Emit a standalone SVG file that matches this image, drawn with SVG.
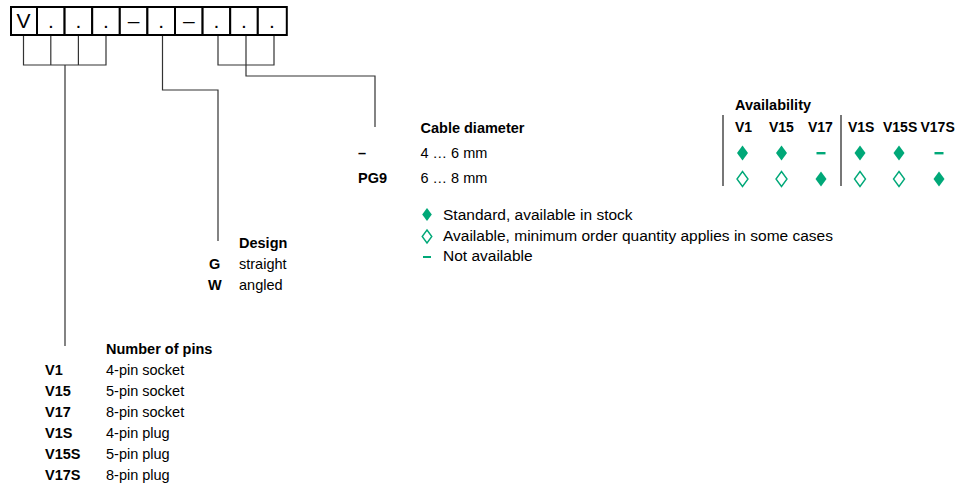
<svg xmlns="http://www.w3.org/2000/svg" width="960" height="491" viewBox="0 0 960 491">
<style>
text{font-family:"Liberation Sans",Arial,sans-serif;fill:#000}
.t{font-size:14.5px}
.h{font-size:14px}
.b{font-weight:bold}
.lg{font-size:15.5px}
.cell{fill:#fff;stroke:#000;stroke-width:2}
.ct{font-size:21px;text-anchor:middle}
.ln{fill:none;stroke:#333;stroke-width:1.2}
.sep{stroke:#777;stroke-width:2}
.fd{fill:#00a878}
.od{fill:none;stroke:#00a878;stroke-width:1.4}
.ds{fill:#00a878}
</style>
<defs>
<path id="fdi" d="M0,-7.5 L5.5,0 L0,7.5 L-5.5,0 Z"/>
<path id="sdi" d="M0,-6.5 L4.8,0 L0,6.5 L-4.8,0 Z"/>
</defs>
<g id="code">
<rect class="cell" x="11" y="7" width="26" height="28"/>
<rect class="cell" x="37" y="7" width="27.6" height="28"/>
<rect class="cell" x="64.6" y="7" width="27.6" height="28"/>
<rect class="cell" x="92.2" y="7" width="27.6" height="28"/>
<rect class="cell" x="119.8" y="7" width="27.6" height="28"/>
<rect class="cell" x="147.4" y="7" width="27.6" height="28"/>
<rect class="cell" x="175" y="7" width="27.6" height="28"/>
<rect class="cell" x="202.6" y="7" width="27.6" height="28"/>
<rect class="cell" x="230.2" y="7" width="27.6" height="28"/>
<rect class="cell" x="257.8" y="7" width="29" height="28"/>
<text class="ct" x="23.5" y="28">V</text>
<text class="ct" x="50.8" y="28">.</text>
<text class="ct" x="78.4" y="28">.</text>
<text class="ct" x="106" y="28">.</text>
<text class="ct" x="133.6" y="28">–</text>
<text class="ct" x="161.2" y="28">.</text>
<text class="ct" x="188.8" y="28">–</text>
<text class="ct" x="216.4" y="28">.</text>
<text class="ct" x="244" y="28">.</text>
<text class="ct" x="272" y="28">.</text>
</g>
<g id="connectors">
<path class="ln" d="M23.5,36 V65 H106 V36 M50.8,36 V65 M78.4,36 V65 M65,65 V346"/>
<path class="ln" d="M162.5,36 V90 H218 V241"/>
<path class="ln" d="M218,36 V65 H274 V36 M246,36 V76 H375 V127"/>
</g>
<g id="pins">
<text class="t b" x="106" y="354">Number of pins</text>
<text class="t b" x="45" y="375">V1</text><text class="t" x="106" y="375">4-pin socket</text>
<text class="t b" x="45" y="396">V15</text><text class="t" x="106" y="396">5-pin socket</text>
<text class="t b" x="45" y="417">V17</text><text class="t" x="106" y="417">8-pin socket</text>
<text class="t b" x="45" y="437.5">V1S</text><text class="t" x="106" y="437.5">4-pin plug</text>
<text class="t b" x="45" y="458.5">V15S</text><text class="t" x="106" y="458.5">5-pin plug</text>
<text class="t b" x="45" y="479.5">V17S</text><text class="t" x="106" y="479.5">8-pin plug</text>
</g>
<g id="design">
<text class="t b" x="239" y="247.5">Design</text>
<text class="t b" x="209" y="268.5">G</text><text class="t" x="239" y="268.5">straight</text>
<text class="t b" x="208" y="289.5">W</text><text class="t" x="239" y="289.5">angled</text>
</g>
<g id="cable">
<text class="t b" x="420.5" y="132.5">Cable diameter</text>
<text class="t b" x="358" y="158">–</text><text class="t" x="420.5" y="158">4 … 6 mm</text>
<text class="t b" x="358" y="183">PG9</text><text class="t" x="420.5" y="183">6 … 8 mm</text>
</g>
<g id="availability">
<text class="t b" x="735" y="110">Availability</text>
<line class="sep" x1="723" y1="115" x2="723" y2="186"/>
<line class="sep" x1="841" y1="115" x2="841" y2="186"/>
<text class="h b" x="735" y="132">V1</text>
<text class="h b" x="769" y="132">V15</text>
<text class="h b" x="808" y="132">V17</text>
<text class="h b" x="848" y="132">V1S</text>
<text class="h b" x="883" y="132">V15S</text>
<text class="h b" x="920.5" y="132">V17S</text>
<use href="#fdi" class="fd" x="742.5" y="153"/>
<use href="#fdi" class="fd" x="781.5" y="153"/>
<rect class="ds" x="816.5" y="152" width="9" height="2.4"/>
<use href="#fdi" class="fd" x="860" y="153"/>
<use href="#fdi" class="fd" x="899" y="153"/>
<rect class="ds" x="934.5" y="152" width="9" height="2.4"/>
<use href="#fdi" class="od" x="742.5" y="179"/>
<use href="#fdi" class="od" x="781.5" y="179"/>
<use href="#fdi" class="fd" x="821" y="179"/>
<use href="#fdi" class="od" x="860" y="179"/>
<use href="#fdi" class="od" x="899" y="179"/>
<use href="#fdi" class="fd" x="939" y="179"/>
</g>
<g id="legend">
<use href="#sdi" class="fd" x="427" y="214.5"/>
<text class="lg" x="443" y="219.5">Standard, available in stock</text>
<use href="#sdi" class="od" x="427" y="236.5"/>
<text class="lg" x="443" y="240.5">Available, minimum order quantity applies in some cases</text>
<rect class="ds" x="423" y="256" width="8" height="2"/>
<text class="lg" x="443" y="261">Not available</text>
</g>
</svg>
